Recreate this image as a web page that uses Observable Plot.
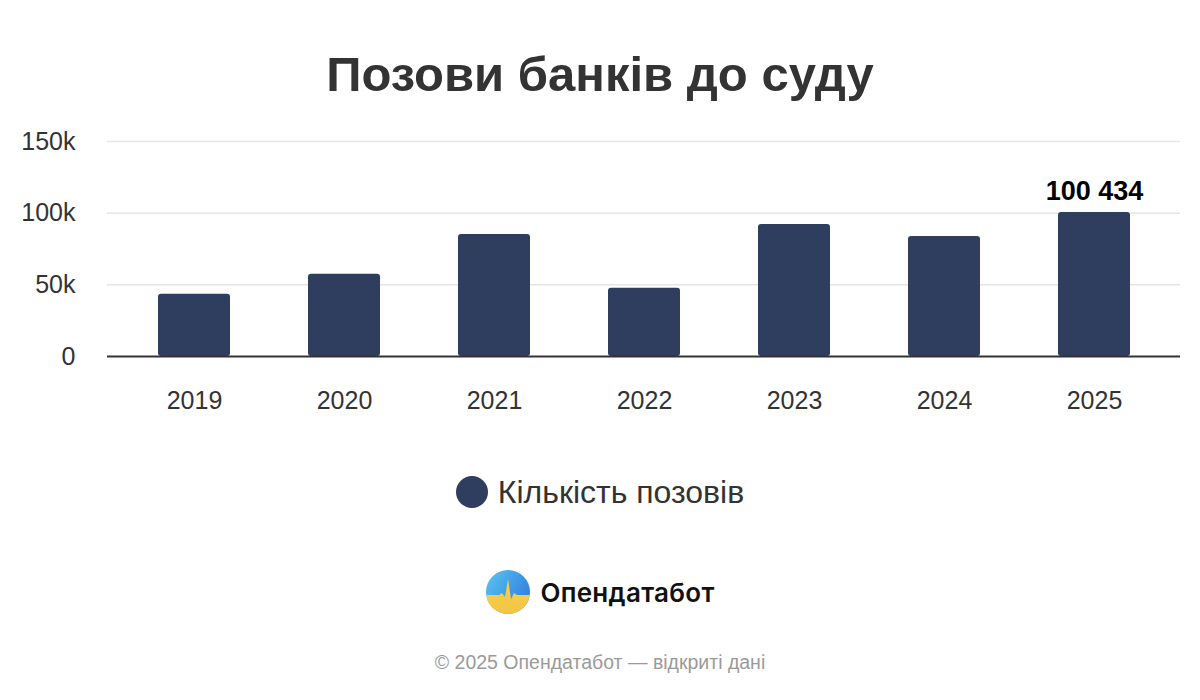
<!DOCTYPE html>
<html>
<head>
<meta charset="utf-8">
<script src="https://cdn.jsdelivr.net/npm/d3@7"></script>
<script src="https://cdn.jsdelivr.net/npm/@observablehq/plot@0.6"></script>
<style>
  html, body { margin: 0; padding: 0; background: #fff; }
  body { width: 1200px; height: 700px; position: relative; overflow: hidden; font-family: "Liberation Sans", Arial, sans-serif; }
  #title { position: absolute; top: 44px; left: 0; width: 1200px; text-align: center; font-size: 49px; font-weight: bold; color: #333; line-height: 60px; }
  #chart { position: absolute; top: 110px; left: 0; }
  #legend { position: absolute; top: 472px; left: 0; width: 1200px; display: flex; justify-content: center; align-items: center; font-size: 32px; color: #333; height: 40px; }
  #legend .dot { width: 32px; height: 32px; border-radius: 50%; background: #2f3d5e; margin-right: 10px; }
  #logo { position: absolute; top: 569px; left: 0; width: 1200px; display: flex; justify-content: center; align-items: center; }
  #logo span { font-family: Inter, Roboto, sans-serif; font-weight: 600; font-size: 26px; color: #111; margin-left: 9px; letter-spacing: 0.3px; }
  #copy { position: absolute; top: 651px; left: 0; width: 1200px; text-align: center; font-size: 19.5px; color: #9a9a9a; }
</style>
</head>
<body>
<div id="title">Позови банків до суду</div>
<div id="chart"></div>
<div id="legend"><div class="dot"></div><div>Кількість позовів</div></div>
<div id="logo">
  <svg width="46" height="46" viewBox="0 0 46 46">
    <defs>
      <clipPath id="lc"><circle cx="23" cy="23" r="22"/></clipPath>
      <linearGradient id="lb" x1="0" y1="0" x2="1" y2="0.6">
        <stop offset="0" stop-color="#5cc8f0"/><stop offset="1" stop-color="#2f7fe0"/>
      </linearGradient>
      <linearGradient id="ly" x1="0" y1="0" x2="0" y2="1">
        <stop offset="0" stop-color="#f7d24a"/><stop offset="1" stop-color="#f3c443"/>
      </linearGradient>
    </defs>
    <g clip-path="url(#lc)">
      <rect x="0" y="0" width="46" height="46" fill="url(#lb)"/>
      <path d="M0 26 L14 26 L17 24 L20 28 L23 10 L26 30 L29 24 L32 26 L46 26 L46 46 L0 46 Z" fill="url(#ly)"/>
    </g>
  </svg>
  <span>Опендатабот</span>
</div>
<div id="copy">© 2025 Опендатабот — відкриті дані</div>
<script>
const years = ["2019", "2020", "2021", "2022", "2023", "2024", "2025"];
const claims = [43500, 57400, 85200, 47700, 92100, 83800, 100434];
const yTicks = [0, 50000, 100000, 150000];
const yTickLabels = ["0", "50k", "100k", "150k"];
const labeledYear = "2025";

const data = years.map((y, i) => ({year: y, value: claims[i]}));
const fmt = v => d3.format(",")(v).replace(/,/g, " ");

const plot = Plot.plot({
  width: 1200,
  height: 330,
  marginTop: 31,
  marginBottom: 84,
  marginLeft: 117,
  marginRight: 29,
  style: {fontFamily: "'Liberation Sans', Arial, sans-serif", fontSize: "25px", color: "#333", background: "transparent"},
  x: {domain: years, paddingInner: 0.52, paddingOuter: 0.26, label: null},
  y: {domain: [0, 150000], label: null},
  marks: [
    Plot.ruleY(yTicks.slice(1), {stroke: "#e6e6e6", strokeWidth: 1.5, insetLeft: -10, insetRight: -9}),
    Plot.barY(data, {x: "year", y: "value", fill: "#2f3d5e", rx: 3}),
    Plot.ruleY([0], {stroke: "#333", strokeWidth: 2, insetLeft: -10, insetRight: -9}),
    Plot.axisY({ticks: yTicks, tickFormat: d => yTickLabels[yTicks.indexOf(d)], tickSize: 0, tickPadding: 42, fontSize: 25, fill: "#333"}),
    Plot.axisX({tickSize: 0, tickPadding: 35, fontSize: 25, fill: "#333"}),
    Plot.text(data.filter(d => d.year === labeledYear), {x: "year", y: "value", text: d => fmt(d.value), dy: -13, lineAnchor: "bottom", fontSize: 27, fontWeight: "bold", fill: "#000"})
  ]
});
document.getElementById("chart").appendChild(plot);
</script>
</body>
</html>
